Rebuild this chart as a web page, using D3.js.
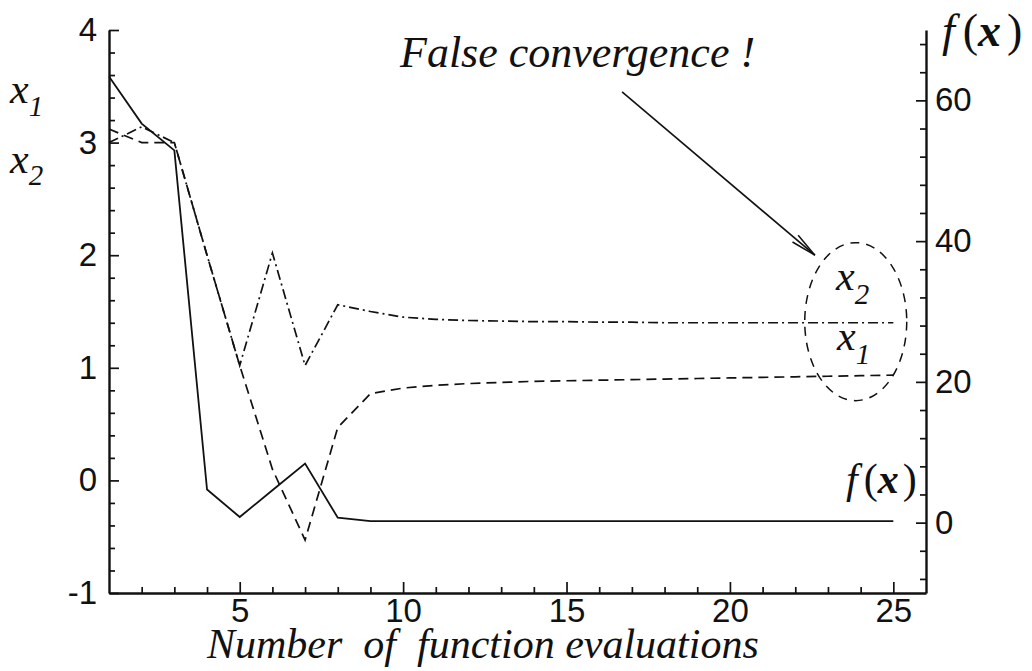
<!DOCTYPE html>
<html>
<head>
<meta charset="utf-8">
<script src="https://cdn.jsdelivr.net/npm/d3@7"></script>
<style>
  html, body { margin: 0; padding: 0; background: #fff; }
  svg { display: block; }
  .tick text { font-family: "Liberation Sans", Arial, Helvetica, sans-serif; font-size: 33px; fill: #111; }
  .serif { font-family: "Liberation Serif", "Times New Roman", serif; font-style: italic; fill: #111; white-space: pre; }
</style>
</head>
<body>
<svg id="chart" width="1032" height="671"></svg>
<script>
// Iteration history of a two-variable minimisation
const iterations = [1, 2, 3, 4, 5, 6, 7, 8, 9, 10, 11, 12, 13, 14, 15, 16, 17, 18, 19, 20, 21, 22, 23, 24, 25];
const x1Values = [3.12, 3.0, 3.0, 2.0, 1.02, 0.1, -0.53, 0.47, 0.77, 0.82, 0.845, 0.86, 0.87, 0.88, 0.885,
                  0.89, 0.895, 0.9, 0.905, 0.91, 0.915, 0.92, 0.925, 0.93, 0.935];
const x2Values = [3.0, 3.14, 3.0, 2.0, 1.02, 2.02, 1.02, 1.56, 1.5, 1.45, 1.43, 1.42, 1.415, 1.41, 1.41,
                  1.405, 1.405, 1.4, 1.4, 1.4, 1.4, 1.4, 1.4, 1.4, 1.4];
const fValues = [63.4, 56.7, 52.9, 4.7, 0.8, 4.6, 8.4, 0.7, 0.2, 0.2, 0.2, 0.2, 0.2, 0.2, 0.2,
                 0.2, 0.2, 0.2, 0.2, 0.2, 0.2, 0.2, 0.2, 0.2, 0.2];

const leftTicks = [-1, 0, 1, 2, 3, 4];
const rightTicks = [0, 20, 40, 60];
const bottomTicks = [5, 10, 15, 20, 25];

const svg = d3.select("#chart");
const plot = { left: 109, right: 926, top: 30, bottom: 593 };
const ink = "#111";
const plain = d => String(d);

const x = d3.scaleLinear().domain([1, 26]).range([plot.left, plot.right]);
const yL = d3.scaleLinear().domain([-1, 4]).range([plot.bottom, plot.top]);
const yR = d3.scaleLinear().domain([-10, 70]).range([plot.bottom, plot.top]);

const leftMinor = d3.range(-1, 4.0001, 0.2).filter(v => Math.abs(v - Math.round(v)) > 1e-6);
const rightMinor = d3.range(-8, 70, 4).filter(v => v % 20 !== 0);
const bottomMinor = d3.range(2, 26, 1).filter(v => v % 5 !== 0);

function styleAxis(g, keepDomain) {
  if (keepDomain) g.select(".domain").attr("stroke", ink).attr("stroke-width", 2.4);
  else g.select(".domain").remove();
  g.selectAll(".tick line").attr("stroke", ink).attr("stroke-width", 1.7);
}

// minor ticks (inward)
svg.append("g").attr("transform", `translate(${plot.left},0)`)
  .call(d3.axisLeft(yL).tickValues(leftMinor).tickSizeInner(-6).tickSizeOuter(0).tickFormat(""))
  .call(g => styleAxis(g, false));
svg.append("g").attr("transform", `translate(${plot.right},0)`)
  .call(d3.axisRight(yR).tickValues(rightMinor).tickSizeInner(-6).tickSizeOuter(0).tickFormat(""))
  .call(g => styleAxis(g, false));
svg.append("g").attr("transform", `translate(0,${plot.bottom})`)
  .call(d3.axisBottom(x).tickValues(bottomMinor).tickSizeInner(-6).tickSizeOuter(0).tickFormat(""))
  .call(g => styleAxis(g, false));

// major ticks with labels
svg.append("g").attr("transform", `translate(${plot.left},0)`)
  .call(d3.axisLeft(yL).tickValues(leftTicks).tickSizeInner(-10).tickSizeOuter(0).tickPadding(12).tickFormat(plain))
  .call(g => styleAxis(g, true));
svg.append("g").attr("transform", `translate(${plot.right},0)`)
  .call(d3.axisRight(yR).tickValues(rightTicks).tickSizeInner(-10).tickSizeOuter(0).tickPadding(9).tickFormat(plain))
  .call(g => styleAxis(g, true));
svg.append("g").attr("transform", `translate(0,${plot.bottom})`)
  .call(d3.axisBottom(x).tickValues(bottomTicks).tickSizeInner(-11).tickSizeOuter(0).tickPadding(6).tickFormat(plain))
  .call(g => styleAxis(g, true));

svg.selectAll(".tick text").attr("fill", ink);

// curves
function path(values, yScale) {
  return d3.line().x((d, i) => x(iterations[i])).y(d => yScale(d))(values);
}
svg.append("path").attr("d", path(fValues, yR))
  .attr("fill", "none").attr("stroke", ink).attr("stroke-width", 1.8).attr("stroke-linejoin", "miter");
svg.append("path").attr("d", path(x1Values, yL))
  .attr("fill", "none").attr("stroke", ink).attr("stroke-width", 1.7).attr("stroke-dasharray", "10,6");
svg.append("path").attr("d", path(x2Values, yL))
  .attr("fill", "none").attr("stroke", ink).attr("stroke-width", 1.7).attr("stroke-dasharray", "10,4,2,4");

// annotation: dashed ellipse around the converged values
const ell = { cx: x(23.85), cy: yL(1.41), rx: 51, ry: 79 };
svg.append("ellipse").attr("cx", ell.cx).attr("cy", ell.cy).attr("rx", ell.rx).attr("ry", ell.ry)
  .attr("fill", "none").attr("stroke", ink).attr("stroke-width", 1.5).attr("stroke-dasharray", "9,7");

// arrow
const a0 = [x(16.7), yL(3.45)], a1 = [x(22.6), yL(2.0)];
svg.append("line").attr("x1", a0[0]).attr("y1", a0[1]).attr("x2", a1[0]).attr("y2", a1[1])
  .attr("stroke", ink).attr("stroke-width", 1.6);
const ang = Math.atan2(a1[1] - a0[1], a1[0] - a0[0]);
[-0.17, 0.17].forEach(da => {
  svg.append("line").attr("x1", a1[0]).attr("y1", a1[1])
    .attr("x2", a1[0] - 26 * Math.cos(ang + da)).attr("y2", a1[1] - 26 * Math.sin(ang + da))
    .attr("stroke", ink).attr("stroke-width", 1.5);
});

// texts
function varLabel(px, py, sub, size, subSize, subDy) {
  const t = svg.append("text").attr("class", "serif").attr("x", px).attr("y", py).attr("font-size", size);
  t.append("tspan").text("x");
  t.append("tspan").attr("font-size", subSize).attr("dy", subDy).text(sub);
}
varLabel(10, 103, "1", 42, 29, 13);
varLabel(10, 173, "2", 42, 29, 12);
varLabel(836, 290, "2", 42, 29, 14);
varLabel(837, 350, "1", 42, 29, 14);

function fLabel(px, py, size, gap) {
  const t = svg.append("text").attr("class", "serif").attr("x", px).attr("y", py).attr("font-size", size);
  t.append("tspan").text("f");
  t.append("tspan").attr("font-style", "normal").attr("dx", gap + 2).text("(");
  t.append("tspan").attr("font-weight", "bold").text("x");
  t.append("tspan").attr("font-style", "normal").attr("dx", gap).text(")");
}
fLabel(942, 46, 46, 6);
fLabel(846, 493, 42, 4);

svg.append("text").attr("class", "serif").attr("x", 400).attr("y", 67).attr("font-size", 44)
  .text("False convergence !");
svg.append("text").attr("class", "serif").attr("x", 207).attr("y", 658).attr("font-size", 42)
  .text("Number  of  function evaluations");
</script>
</body>
</html>
